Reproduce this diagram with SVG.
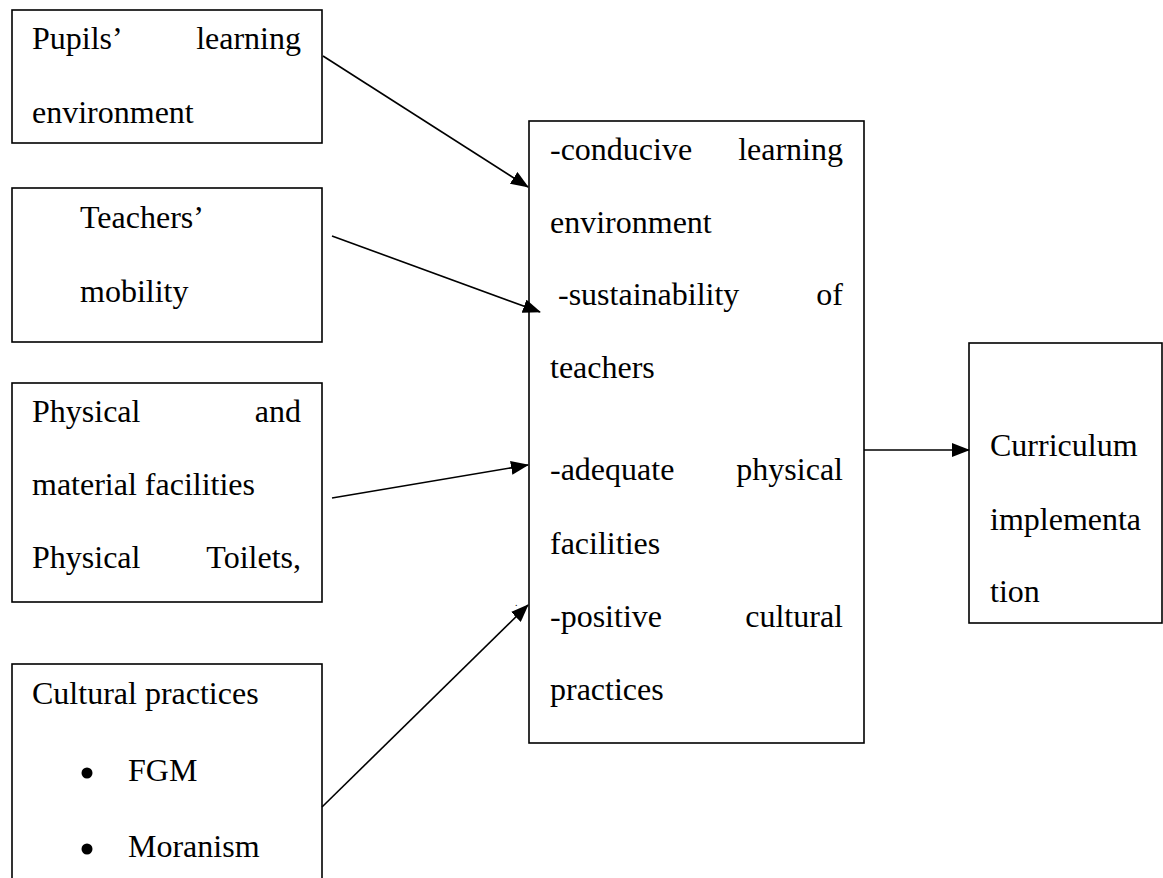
<svg xmlns="http://www.w3.org/2000/svg" width="1163" height="878" viewBox="0 0 1163 878">
<style>
.box{fill:#fff;stroke:#000;stroke-width:1.6}
.t{font-family:"Liberation Serif","Times New Roman",serif;font-size:32px;fill:#000}
.e{text-anchor:end}
.c{stroke:#000;stroke-width:1.6;fill:none}
</style>
<defs>
<marker id="ah" markerWidth="18" markerHeight="14" refX="17" refY="7" orient="auto" markerUnits="userSpaceOnUse">
<path d="M0,0 L18,7 L0,14 Z" fill="#000"/>
</marker>
</defs>
<rect width="1163" height="878" fill="#fff"/>
<g id="n1">
<rect class="box" x="12" y="10" width="310" height="133"/>
<text class="t" x="32" y="49">Pupils’</text>
<text class="t e" x="301" y="49">learning</text>
<text class="t" x="32" y="123">environment</text>
</g>
<g id="n2">
<rect class="box" x="12" y="188" width="310" height="154"/>
<text class="t" x="80" y="228">Teachers’</text>
<text class="t" x="80" y="302">mobility</text>
</g>
<g id="n3">
<rect class="box" x="12" y="383" width="310" height="219"/>
<text class="t" x="32" y="422">Physical</text>
<text class="t e" x="301" y="422">and</text>
<text class="t" x="32" y="495">material facilities</text>
<text class="t" x="32" y="568">Physical</text>
<text class="t e" x="301" y="568">Toilets,</text>
</g>
<g id="n4">
<rect class="box" x="12" y="664" width="310" height="230"/>
<text class="t" x="32" y="704">Cultural practices</text>
<circle cx="87" cy="773" r="5.5"/>
<text class="t" x="128" y="781">FGM</text>
<circle cx="87" cy="849" r="5.5"/>
<text class="t" x="128" y="857">Moranism</text>
</g>
<g id="n5">
<rect class="box" x="529" y="121" width="335" height="622"/>
<text class="t" x="550" y="160">-conducive</text>
<text class="t e" x="843" y="160">learning</text>
<text class="t" x="550" y="233">environment</text>
<text class="t" x="558" y="305">-sustainability</text>
<text class="t e" x="843" y="305">of</text>
<text class="t" x="550" y="378">teachers</text>
<text class="t" x="550" y="480">-adequate</text>
<text class="t e" x="843" y="480">physical</text>
<text class="t" x="550" y="554">facilities</text>
<text class="t" x="550" y="627">-positive</text>
<text class="t e" x="843" y="627">cultural</text>
<text class="t" x="550" y="700">practices</text>
</g>
<g id="n6">
<rect class="box" x="969" y="343" width="193" height="280"/>
<text class="t" x="990" y="456">Curriculum</text>
<text class="t" x="990" y="530">implementa</text>
<text class="t" x="990" y="602">tion</text>
</g>
<g id="connectors">
<line class="c" x1="323" y1="56" x2="528" y2="187" marker-end="url(#ah)"/>
<line class="c" x1="332" y1="236" x2="540" y2="312" marker-end="url(#ah)"/>
<line class="c" x1="332" y1="498" x2="528" y2="465" marker-end="url(#ah)"/>
<line class="c" x1="322" y1="807" x2="528" y2="605" marker-end="url(#ah)"/>
<line class="c" x1="864" y1="450" x2="969" y2="450" marker-end="url(#ah)"/>
</g>
<text x="515" y="606" style="font-family:'Liberation Serif',serif;font-size:10px">.</text>
</svg>
